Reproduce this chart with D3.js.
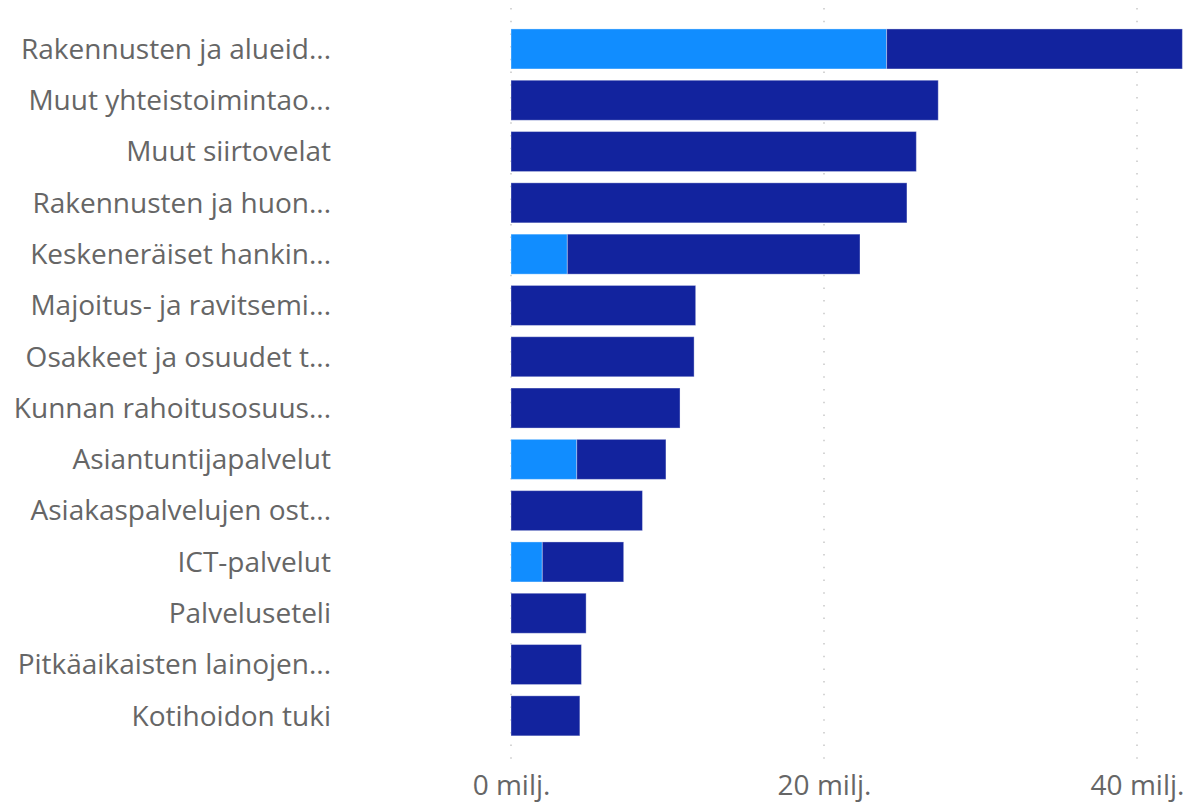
<!DOCTYPE html>
<html><head><meta charset="utf-8">
<script src="https://cdn.jsdelivr.net/npm/d3@7"></script>
<style>
html,body{margin:0;padding:0;background:#fff;}
text{font-family:"Open Sans","Noto Sans",sans-serif;}
</style></head>
<body>
<svg id="c" width="1188" height="802"></svg>
<script>
const categories = ["Rakennusten ja alueid...","Muut yhteistoimintao...","Muut siirtovelat","Rakennusten ja huon...","Keskeneräiset hankin...","Majoitus- ja ravitsemi...","Osakkeet ja osuudet t...","Kunnan rahoitusosuus...","Asiantuntijapalvelut","Asiakaspalvelujen ost...","ICT-palvelut","Palveluseteli","Pitkäaikaisten lainojen...","Kotihoidon tuki"];
const seriesLight = [24.0,0,0,0,3.6,0,0,0,4.2,0,2.0,0,0,0];
const seriesDark  = [18.9,27.3,25.9,25.3,18.7,11.8,11.7,10.8,5.7,8.4,5.2,4.8,4.5,4.4];
const tickValues = [0,20,40];
const tickLabels = ["0 milj.","20 milj.","40 milj."];

const svg = d3.select("#c");
const x = d3.scaleLinear().domain([0,40]).range([511,1137]);
const y = d3.scaleBand().domain(categories).range([23.3,741.5]).paddingInner(0.22).paddingOuter(0.11);

// gridlines
svg.append("g").selectAll("line").data(tickValues).join("line")
  .attr("x1",d=>x(d)).attr("x2",d=>x(d)).attr("y1",8).attr("y2",762)
  .attr("stroke","#c8c8c8").attr("stroke-width",1.5).attr("stroke-dasharray","1.5,11.2");

const data = categories.map((c,i)=>({cat:c,light:seriesLight[i],dark:seriesDark[i]}));
const stack = d3.stack().keys(["light","dark"])(data);
const colors = {light:"#118DFF",dark:"#12239E"};

svg.append("g").selectAll("g").data(stack).join("g")
  .attr("fill",d=>colors[d.key])
  .selectAll("rect").data(d=>d.filter(p=>p[1]-p[0]>0)).join("rect")
  .attr("x",d=>x(d[0])).attr("width",d=>x(d[1])-x(d[0]))
  .attr("y",d=>y(d.data.cat)).attr("height",y.bandwidth())
  .attr("stroke","rgba(255,255,255,0.35)").attr("stroke-width",1);

// y axis labels
const labelG = svg.append("g");
labelG.selectAll("text").data(categories).join("text")
  .attr("x",331).attr("y",d=>y(d)+y.bandwidth()/2)
  .attr("dy","0.35em").attr("text-anchor","end")
  .attr("fill","#666666").attr("font-size",28).text(d=>d);

// x axis
const xAxis = d3.axisBottom(x).tickValues(tickValues).tickFormat((d,i)=>tickLabels[i]).tickSize(0).tickPadding(0);
const gx = svg.append("g").attr("transform","translate(0,795)").call(xAxis);
gx.select(".domain").remove();
gx.selectAll("text").attr("fill","#666666").attr("font-size",28).attr("y",0)
  .attr("font-family","'Open Sans','Noto Sans',sans-serif").attr("dy","0");
</script>
</body></html>
